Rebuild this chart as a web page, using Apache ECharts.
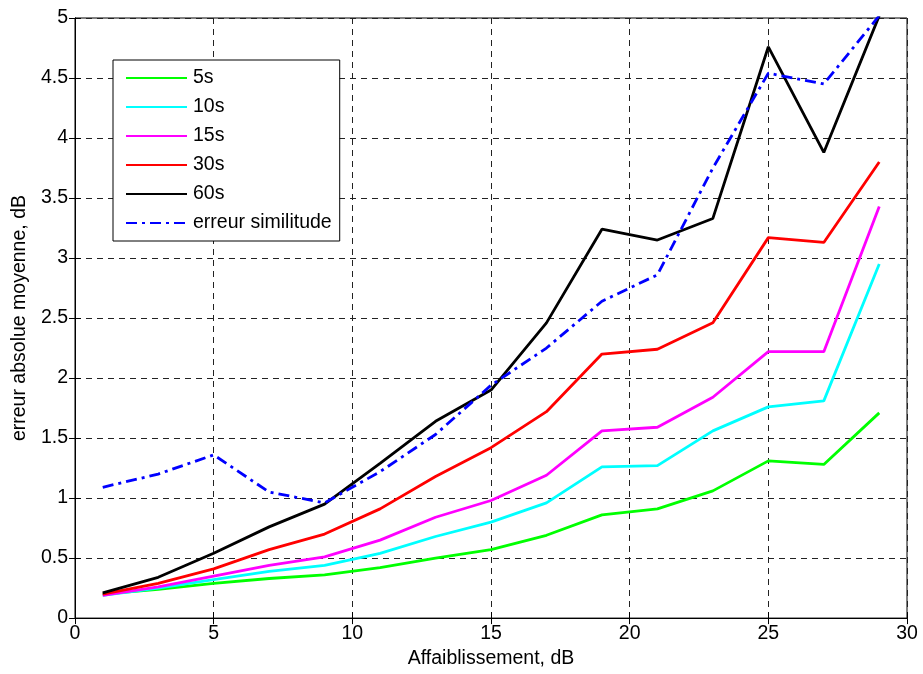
<!DOCTYPE html>
<html><head><meta charset="utf-8">
<script src="https://cdn.jsdelivr.net/npm/echarts@6/dist/echarts.min.js"></script>
<style>html,body{margin:0;padding:0;background:#fff}#c{width:923px;height:674px}</style>
</head><body><div id="c"></div>
<script>
const xValues = [1,3,5,7,9,11,13,15,17,19,21,23,25,27,29];
const s5  = [0.20,0.24,0.29,0.33,0.36,0.42,0.50,0.57,0.69,0.86,0.91,1.06,1.31,1.28,1.71];
const s10 = [0.19,0.25,0.32,0.39,0.44,0.54,0.68,0.80,0.96,1.26,1.27,1.56,1.76,1.81,2.95];
const s15 = [0.19,0.26,0.35,0.44,0.51,0.65,0.84,0.98,1.19,1.56,1.59,1.84,2.22,2.22,3.43];
const s30 = [0.20,0.29,0.41,0.57,0.70,0.91,1.18,1.42,1.72,2.20,2.24,2.46,3.17,3.13,3.80];
const s60 = [0.21,0.34,0.54,0.76,0.95,1.29,1.64,1.90,2.46,3.24,3.15,3.33,4.76,3.88,5.02];
const sSim = [1.09,1.20,1.36,1.05,0.96,1.22,1.53,1.94,2.25,2.64,2.86,3.75,4.54,4.45,5.02];
const seriesNames = ['5s','10s','15s','30s','60s','erreur similitude'];
const seriesColors = ['#00ff00','#00ffff','#ff00ff','#ff0000','#000000','#0000ff'];
const seriesData = [s5,s10,s15,s30,s60,sSim];
const xTicks = [0,5,10,15,20,25,30];
const yTicks = ['0','0.5','1','1.5','2','2.5','3','3.5','4','4.5','5'];

const font = 'Liberation Sans, Arial, sans-serif';
const fs = 19.5;
const gridLine = {show:true, lineStyle:{color:'#222', type:[6,5], width:1}};
const chart = echarts.init(document.getElementById('c'));
chart.setOption({
  animation:false,
  backgroundColor:'#fff',
  grid:{left:75,right:16,top:18,bottom:53,show:true,borderColor:'#000',borderWidth:1},
  legend:{
    orient:'vertical', left:113, top:60,
    data:seriesNames,
    itemWidth:61, itemHeight:14, itemGap:9,
    padding:[8,8,8,12],
    itemStyle:{opacity:0},
    borderColor:'#000', borderWidth:1, backgroundColor:'#fff',
    textStyle:{fontFamily:font,fontSize:fs,color:'#000',padding:[0,0,0,1]}
  },
  xAxis:[{
    type:'value', min:0, max:30, interval:5,
    name:'Affaiblissement, dB', nameLocation:'middle', nameGap:30,
    nameTextStyle:{fontFamily:font,fontSize:fs,color:'#000'},
    axisLine:{show:true,onZero:false,lineStyle:{color:'#000'}},
    axisTick:{show:true,inside:true,length:6,lineStyle:{color:'#000'}},
    axisLabel:{fontFamily:font,fontSize:fs,color:'#000',margin:6,formatter:v=>String(v)},
    splitLine:gridLine
  },{
    type:'value', min:0, max:30, interval:5, position:'top',
    axisLine:{show:true,lineStyle:{color:'#000'}},
    axisTick:{show:true,inside:true,length:6,lineStyle:{color:'#000'}},
    axisLabel:{show:false}, splitLine:{show:false}
  }],
  yAxis:[{
    type:'value', min:0, max:5, interval:0.5,
    name:'erreur absolue moyenne, dB', nameLocation:'middle', nameGap:45,
    nameTextStyle:{fontFamily:font,fontSize:fs,color:'#000'},
    axisLine:{show:true,onZero:false,lineStyle:{color:'#000'}},
    axisTick:{show:true,inside:true,length:6,lineStyle:{color:'#000'}},
    axisLabel:{fontFamily:font,fontSize:fs,color:'#000',margin:7,formatter:(v,i)=>yTicks[i]},
    splitLine:gridLine
  },{
    type:'value', min:0, max:5, interval:0.5, position:'right',
    axisLine:{show:true,lineStyle:{color:'#000'}},
    axisTick:{show:true,inside:true,length:6,lineStyle:{color:'#000'}},
    axisLabel:{show:false}, splitLine:{show:false}
  }],
  series: seriesData.map((d,i)=>({
    name:seriesNames[i], type:'line', xAxisIndex:0, yAxisIndex:0,
    data: xValues.map((x,j)=>[x,d[j]]),
    symbol:'none', showSymbol:false,
    color:seriesColors[i],
    lineStyle:{color:seriesColors[i], width:2.8, type: i===5 ? [11,5,3,5] : 'solid'},
    z: i===5 ? 3 : 2
  }))
});
</script></body></html>
